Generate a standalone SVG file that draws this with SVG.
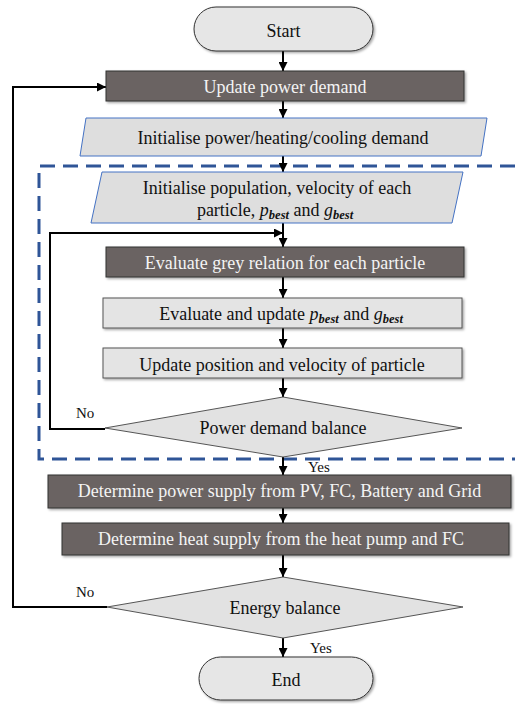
<svg xmlns="http://www.w3.org/2000/svg" width="515" height="704" viewBox="0 0 515 704">
<style>
text{font-family:"Liberation Serif","Times New Roman",serif;font-size:18px;text-anchor:middle;fill:#111}
.w{fill:#f4f4f4}
.lbl{font-size:15px;text-anchor:start}
.dark{fill:#6a6462;stroke:#333;stroke-width:1}
.light{fill:#e4e4e4;stroke:#555;stroke-width:1}
.term{fill:#e6e6e6;stroke:#333;stroke-width:1}
.para{fill:#dedede;stroke:#4472c4;stroke-width:1}
.dia{fill:#e2e2e2;stroke:#555;stroke-width:1}
.con{fill:none;stroke:#000;stroke-width:2}
.dash{fill:none;stroke:#2f5597;stroke-width:3;stroke-dasharray:15 8}
.m{font-style:italic}
.sub{font-style:italic;font-size:12.5px;font-weight:bold}
</style>
<defs>
<marker id="ah" viewBox="0 0 10 10" refX="10" refY="5" markerWidth="4.5" markerHeight="4.5" orient="auto" markerUnits="strokeWidth">
<path d="M0,0 L10,5 L0,10 z" fill="#000"/>
</marker>
<filter id="sh" x="-5%" y="-20%" width="110%" height="150%">
<feDropShadow dx="1.5" dy="1.5" stdDeviation="1" flood-color="#000" flood-opacity="0.35"/>
</filter>
</defs>

<path class="dash" d="M515,166 H39 V459 H515"/>

<g id="connectors">
<line class="con" x1="283" y1="51" x2="283" y2="71" marker-end="url(#ah)"/>
<line class="con" x1="283" y1="101" x2="283" y2="118" marker-end="url(#ah)"/>
<line class="con" x1="283" y1="156" x2="283" y2="172" marker-end="url(#ah)"/>
<line class="con" x1="283" y1="223" x2="283" y2="247" marker-end="url(#ah)"/>
<line class="con" x1="283" y1="277" x2="283" y2="298" marker-end="url(#ah)"/>
<line class="con" x1="283" y1="328" x2="283" y2="348" marker-end="url(#ah)"/>
<line class="con" x1="283" y1="378" x2="283" y2="397" marker-end="url(#ah)"/>
<line class="con" x1="283" y1="457" x2="283" y2="475" marker-end="url(#ah)"/>
<line class="con" x1="283" y1="508" x2="283" y2="523" marker-end="url(#ah)"/>
<line class="con" x1="283" y1="555" x2="283" y2="577" marker-end="url(#ah)"/>
<line class="con" x1="283" y1="638" x2="283" y2="657" marker-end="url(#ah)"/>
<path class="con" d="M105,429 H50 V233 H283" marker-end="url(#ah)"/>
<path class="con" d="M107,607 H13 V87 H106" marker-end="url(#ah)"/>
<text class="lbl" x="76" y="418">No</text>
<text class="lbl" x="308" y="472">Yes</text>
<text class="lbl" x="76" y="597">No</text>
<text class="lbl" x="310" y="653">Yes</text>
</g>

<g id="start">
<rect class="term" x="194" y="7" width="179" height="44" rx="22" filter="url(#sh)"/>
<text x="283.5" y="37">Start</text>
</g>

<g id="update-power">
<rect class="dark" x="106" y="71" width="358" height="30" filter="url(#sh)"/>
<text class="w" x="285" y="93">Update power demand</text>
</g>

<g id="init-demand">
<polygon class="para" points="86,118 487,118 481,156 80,156"/>
<text x="283" y="144">Initialise power/heating/cooling demand</text>
</g>

<g id="init-population">
<polygon class="para" points="102,172 463,172 452,223 91,223"/>
<text x="277" y="194">Initialise population, velocity of each</text>
<text x="275" y="216">particle, <tspan class="m">p</tspan><tspan class="sub" dy="3">best</tspan><tspan dy="-3"> and </tspan><tspan class="m">g</tspan><tspan class="sub" dy="3">best</tspan></text>
</g>

<g id="evaluate-grey">
<rect class="dark" x="106" y="247" width="358" height="30" filter="url(#sh)"/>
<text class="w" x="285" y="269">Evaluate grey relation for each particle</text>
</g>

<g id="evaluate-update">
<rect class="light" x="103" y="298" width="359" height="30" filter="url(#sh)"/>
<text x="281" y="320">Evaluate and update <tspan class="m">p</tspan><tspan class="sub" dy="3">best</tspan><tspan dy="-3"> and </tspan><tspan class="m">g</tspan><tspan class="sub" dy="3">best</tspan></text>
</g>

<g id="update-position">
<rect class="light" x="103" y="348" width="359" height="30" filter="url(#sh)"/>
<text x="282" y="371">Update position and velocity of particle</text>
</g>

<g id="power-balance">
<polygon class="dia" points="283,397 462,428 283,457 105,428"/>
<text x="283" y="434">Power demand balance</text>
</g>

<g id="power-supply">
<rect class="dark" x="48" y="475" width="463" height="33" filter="url(#sh)"/>
<text class="w" x="279.5" y="497">Determine power supply from PV, FC, Battery and Grid</text>
</g>

<g id="heat-supply">
<rect class="dark" x="62" y="523" width="447" height="32" filter="url(#sh)"/>
<text class="w" x="281" y="545">Determine heat supply from the heat pump and FC</text>
</g>

<g id="energy-balance">
<polygon class="dia" points="283,577 463,607 283,638 107,607"/>
<text x="285" y="614">Energy balance</text>
</g>

<g id="end">
<rect class="term" x="199" y="657" width="174" height="43" rx="21.5" filter="url(#sh)"/>
<text x="286" y="686">End</text>
</g>
</svg>
